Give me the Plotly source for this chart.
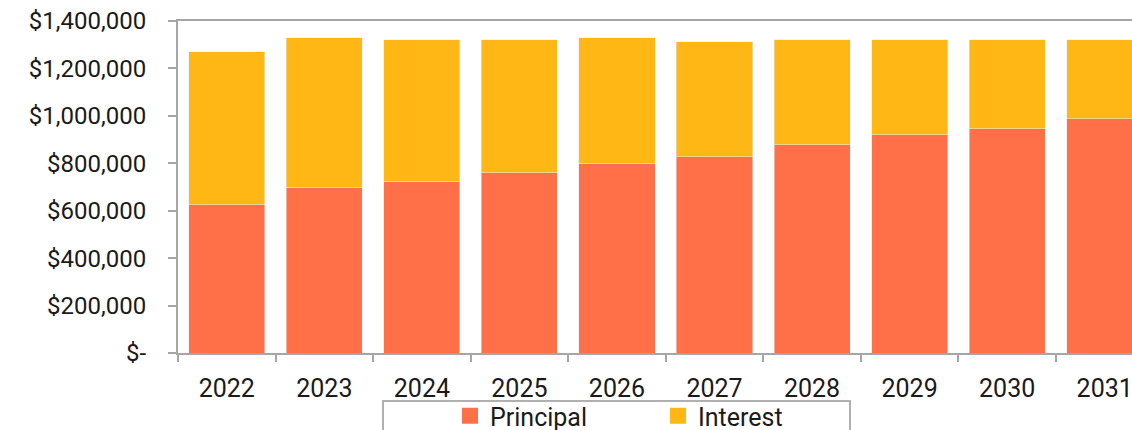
import plotly.graph_objects as go

years = ["2022", "2023", "2024", "2025", "2026", "2027", "2028", "2029", "2030", "2031"]
principal = [625000, 700000, 725000, 760000, 800000, 828000, 878000, 920000, 945000, 988000]
interest = [645000, 630000, 596000, 560000, 530000, 485000, 443000, 401000, 376000, 333000]

y_ticks = [0, 200000, 400000, 600000, 800000, 1000000, 1200000, 1400000]
y_labels = ["$-", "$200,000", "$400,000", "$600,000", "$800,000", "$1,000,000", "$1,200,000", "$1,400,000"]

series_names = ["Principal", "Interest"]
series_colors = ["#FF7049", "#FFB716"]

axis_grey = "#a6a6a6"
font_main = "Roboto"

fig = go.Figure()
fig.add_trace(go.Bar(x=years, y=principal, name=series_names[0],
                     marker={"color": series_colors[0]}, showlegend=False))
fig.add_trace(go.Bar(x=years, y=interest, name=series_names[1],
                     marker={"color": series_colors[1]}, showlegend=False))

# legend-only entries so the swatches are bigger squares like the original
for name, color in zip(series_names, series_colors):
    fig.add_trace(go.Scatter(x=[None], y=[None], mode="markers", name=name,
                             marker={"symbol": "square", "size": 16, "color": color}))

# plot area in pixels: left 178, right 1132, top 21, bottom 353
W, H = 1132, 430
L, R, T, B = 178, 1132, 21, 353


def px_x(p):
    return (p - L) / (R - L)


def px_y(p):
    return (B - p) / (B - T)


# legend frame (chart is cropped so the bottom edge falls off the canvas)
fig.add_shape(type="rect", xref="paper", yref="paper",
              x0=px_x(383), x1=px_x(850), y0=px_y(433), y1=px_y(401),
              line={"color": "#b0b0b0", "width": 2}, fillcolor="rgba(0,0,0,0)")

fig.update_layout(
    barmode="stack",
    bargap=0.22,
    width=W,
    height=H,
    margin={"l": L, "r": W - R, "t": T, "b": H - B, "pad": 0, "autoexpand": False},
    paper_bgcolor="#ffffff",
    plot_bgcolor="#ffffff",
    font={"family": font_main, "color": "#1a1a1a", "size": 24},
    showlegend=True,
    legend={
        "orientation": "h",
        "traceorder": "normal",
        "x": px_x(658), "xanchor": "center",
        "y": px_y(416), "yanchor": "middle",
        "font": {"size": 25, "family": font_main},
        "entrywidth": 163,
        "itemwidth": 30,
        "bgcolor": "rgba(0,0,0,0)",
        "borderwidth": 0,
    },
    xaxis={
        "type": "category",
        "range": [-0.5, 9.28],
        "showline": True, "linecolor": axis_grey, "linewidth": 2, "mirror": True,
        "ticks": "outside", "tickson": "boundaries", "ticklen": 7, "tickwidth": 2,
        "tickcolor": axis_grey,
        "showgrid": False,
        "tickfont": {"size": 25},
        "ticklabelstandoff": 12,
    },
    yaxis={
        "range": [0, 1400000],
        "tickvals": y_ticks,
        "ticktext": y_labels,
        "showline": True, "linecolor": axis_grey, "linewidth": 2,
        "ticks": "outside", "ticklen": 8, "tickwidth": 2, "tickcolor": axis_grey,
        "showgrid": False,
        "zeroline": False,
        "tickfont": {"size": 24},
        "ticklabelstandoff": 17,
    },
)

fig.write_html("out.html", config={"displayModeBar": False},
               post_script="document.body.style.margin='0';")
